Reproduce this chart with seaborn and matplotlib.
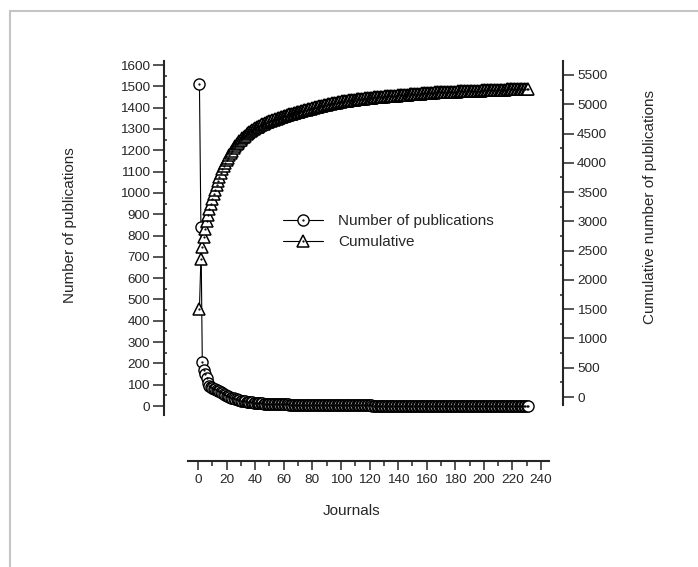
import numpy as np
import pandas as pd
import matplotlib
matplotlib.use("Agg")
import matplotlib.pyplot as plt
import seaborn as sns
from matplotlib.patches import Rectangle

# publications per journal, journals ranked by output
head_counts = [1510, 840, 205, 170, 150, 130, 110, 95,
               90, 85, 80, 78, 75, 72, 70, 68, 62,
               55, 50, 48, 45, 42, 40, 38, 37, 35, 33, 30, 27]
mid_counts = [25, 24, 23, 22, 21, 20, 19, 18, 17, 16, 16, 15, 14, 14, 13, 12, 11, 10, 10,
              10, 10, 9, 9, 9, 9, 9, 8, 8, 8, 8, 8, 8, 8, 8, 7, 7, 7, 7, 7, 7, 7, 7, 7,
              6, 6, 6, 6]
low_counts = [7, 7, 7, 7] + [6] * 10 + [5] * 10 + [4] * 6
tail_counts = [3] * 15 + [2] * 45 + [1] * 65

counts = head_counts + mid_counts + low_counts + tail_counts
journals = np.arange(1, len(counts) + 1)
cumulative = np.cumsum(counts)

x_ticks = np.arange(0, 241, 20)
left_ticks = np.arange(0, 1601, 100)
right_ticks = np.arange(0, 5501, 500)

df = pd.DataFrame({"Journals": journals, "count": counts, "cum": cumulative})

sns.set_style("ticks")
plt.rcParams["font.family"] = ["Liberation Sans", "DejaVu Sans"]

fig = plt.figure(figsize=(6.98, 5.67), dpi=100)
ax = fig.add_axes([164 / 698, 1 - 415 / 567, 399 / 698, 354 / 567])
ax2 = ax.twinx()

# number of publications (left axis)
sns.lineplot(data=df, x="Journals", y="count", ax=ax, color="black", lw=0.8,
             marker="o", markersize=8, markerfacecolor="white",
             markeredgecolor="black", markeredgewidth=1.0)
ax.plot(journals, counts, ls="none", marker=".", ms=1.2, color="black")

# cumulative (right axis)
sns.lineplot(data=df, x="Journals", y="cum", ax=ax2, color="black", lw=0.8,
             marker="^", markersize=9, markerfacecolor="white",
             markeredgecolor="black", markeredgewidth=1.1)
ax2.plot(journals, cumulative, ls="none", marker=".", ms=1.2, color="black")

ax.set_xlim(-23.8, 255.4)
ax.set_ylim(-42, 1619)
ax2.set_ylim(-307, 5739)

# spines, Origin look
for s in ["top", "right"]:
    ax.spines[s].set_visible(False)
for s in ["top", "left", "bottom"]:
    ax2.spines[s].set_visible(False)
ax.spines["bottom"].set_position(("outward", 33))
ax.spines["bottom"].set_bounds(-7, 245.6)
ax2.spines["right"].set_bounds(-137, 5739)
for sp in [ax.spines["left"], ax.spines["bottom"], ax2.spines["right"]]:
    sp.set_linewidth(1.5)

ax.set_xticks(x_ticks)
ax.set_xticks(np.arange(10, 240, 20), minor=True)
ax.set_yticks(left_ticks)
ax.set_yticks(np.arange(50, 1600, 100), minor=True)
ax2.set_yticks(right_ticks)
ax2.set_yticks(np.arange(250, 5500, 500), minor=True)

ax.tick_params(axis="x", which="major", direction="out", length=6.5, width=1.1,
               labelsize=9.7, pad=3)
ax.tick_params(axis="x", which="minor", direction="out", length=3.6, width=1.1)
ax.tick_params(axis="y", which="major", direction="out", length=7.7, width=1.1,
               labelsize=9.7, pad=2.5)
ax.tick_params(axis="y", which="minor", direction="in", length=2.2, width=1.1)
ax2.tick_params(axis="y", which="major", direction="out", length=7.7, width=1.1,
                labelsize=9.7, pad=2.5)
ax2.tick_params(axis="y", which="minor", direction="in", length=2.2, width=1.1)

# axis titles
ax.set_xlabel("Journals", fontsize=11)
ax.xaxis.set_label_coords(0.469, -0.251)
ax.set_ylabel("Number of publications", fontsize=11)
ax.yaxis.set_label_coords(-0.2356, 0.537)
ax.yaxis.label.set_va("center")
ax2.set_ylabel("Cumulative number of publications", fontsize=11)
ax2.yaxis.set_label_coords(1.218, 0.5876)
ax2.yaxis.label.set_va("center")

# legend
l1, d1 = ax.get_lines()[0], ax.get_lines()[1]
l2, d2 = ax2.get_lines()[0], ax2.get_lines()[1]
fig.legend([(l1, d1), (l2, d2)], ["Number of publications", "Cumulative"],
           loc="center left", bbox_to_anchor=(283 / 698, 1 - 231.5 / 567),
           frameon=False, fontsize=11, handlelength=2.6, handletextpad=1.0,
           labelspacing=0.45, borderpad=0, borderaxespad=0)

# light frame of the original page
fig.add_artist(Rectangle((9.5 / 698, -0.1), 1.2, 1.1 - 11 / 567, transform=fig.transFigure,
                         fill=False, edgecolor="#c4c4c4", lw=1.5, clip_on=False))

fig.savefig("out.png", dpi=100)
